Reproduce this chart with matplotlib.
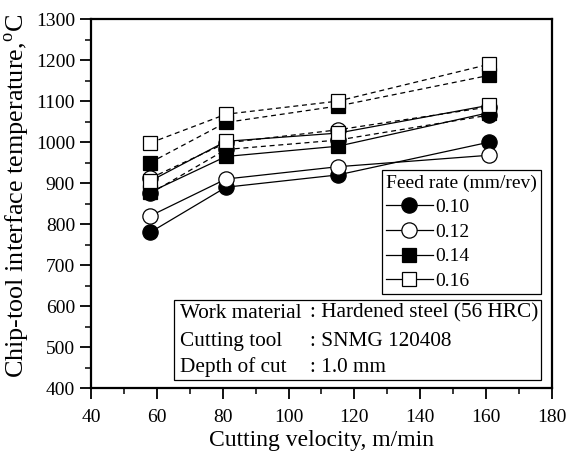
import matplotlib
matplotlib.use('Agg')
import matplotlib.pyplot as plt
from matplotlib.lines import Line2D
from matplotlib.patches import Rectangle
from matplotlib.ticker import MultipleLocator

plt.rcParams['font.family'] = ['Liberation Serif', 'DejaVu Serif']
plt.rcParams['mathtext.fontset'] = 'custom'
plt.rcParams['mathtext.rm'] = 'Liberation Serif'

# data
velocity = [58, 81, 115, 161]
feed_rates = ['0.10', '0.12', '0.14', '0.16']
solid_temps = [[780, 890, 920, 1000],
               [820, 910, 940, 968],
               [878, 965, 990, 1072],
               [905, 1002, 1022, 1090]]
dashed_temps = [[875, 982, 1005, 1066],
                [912, 998, 1030, 1086],
                [950, 1048, 1088, 1163],
                [998, 1068, 1100, 1190]]
markers = ['o', 'o', 's', 's']
fills = ['black', 'white', 'black', 'white']
sizes = [11, 11, 9.5, 9.5]

fig = plt.figure(figsize=(5.67, 4.55), dpi=100)
ax = fig.add_axes([0.1605, 0.147, 0.813, 0.811])

# dashed set underneath, solid set on top
for i in range(4):
    ax.plot(velocity, dashed_temps[i], '--', color='black', lw=0.9, dashes=(4, 3),
            marker=markers[i], mfc=fills[i], mec='black', ms=sizes[i], mew=0.9, zorder=2)
for i in range(4):
    ax.plot(velocity, solid_temps[i], '-', color='black', lw=0.9,
            marker=markers[i], mfc=fills[i], mec='black', ms=sizes[i], mew=0.9, zorder=3)

ax.set_xlim(40, 180)
ax.set_ylim(400, 1300)
ax.xaxis.set_major_locator(MultipleLocator(20))
ax.xaxis.set_minor_locator(MultipleLocator(10))
ax.yaxis.set_major_locator(MultipleLocator(100))
ax.yaxis.set_minor_locator(MultipleLocator(50))
ax.tick_params(which='major', direction='out', length=8, width=1.3, labelsize=14)
ax.tick_params(axis='x', which='major', pad=7)
ax.tick_params(which='minor', direction='out', length=4.5, width=1.1)
for s in ax.spines.values():
    s.set_linewidth(1.6)

ax.set_xlabel('Cutting velocity, m/min', fontsize=17, labelpad=3)
ax.set_ylabel(r'Chip-tool interface temperature,$^{\mathrm{o}}$C', fontsize=18.8)
ax.yaxis.set_label_coords(-0.128, 0.52)

handles = [Line2D([], [], color='black', lw=0.9, marker=markers[i], mfc=fills[i],
                  mec='black', ms=sizes[i], mew=0.9) for i in range(4)]
leg = ax.legend(handles, feed_rates, title='Feed rate (mm/rev)', loc='upper right',
                bbox_to_anchor=(0.976, 0.59), fontsize=14, title_fontsize=14,
                fancybox=False, edgecolor='black', framealpha=1, handlelength=2.4,
                handletextpad=0.1, labelspacing=0.36, borderpad=0.2, borderaxespad=0)
leg._legend_box.align = 'left'
leg.get_frame().set_linewidth(0.9)

ax.add_patch(Rectangle((0.18, 0.022), 0.796, 0.216, transform=ax.transAxes,
                       fill=False, edgecolor='black', lw=0.9, zorder=5))
info_labels = ['Work material', 'Cutting tool', 'Depth of cut']
info_values = [': Hardened steel (56 HRC)', ': SNMG 120408', ': 1.0 mm']
for k, yy in enumerate([0.203, 0.125, 0.057]):
    ax.text(0.193, yy, info_labels[k], transform=ax.transAxes, fontsize=15.3, va='center')
    ax.text(0.474, yy, info_values[k], transform=ax.transAxes, fontsize=15.3, va='center')

fig.savefig('out.png', dpi=100)
